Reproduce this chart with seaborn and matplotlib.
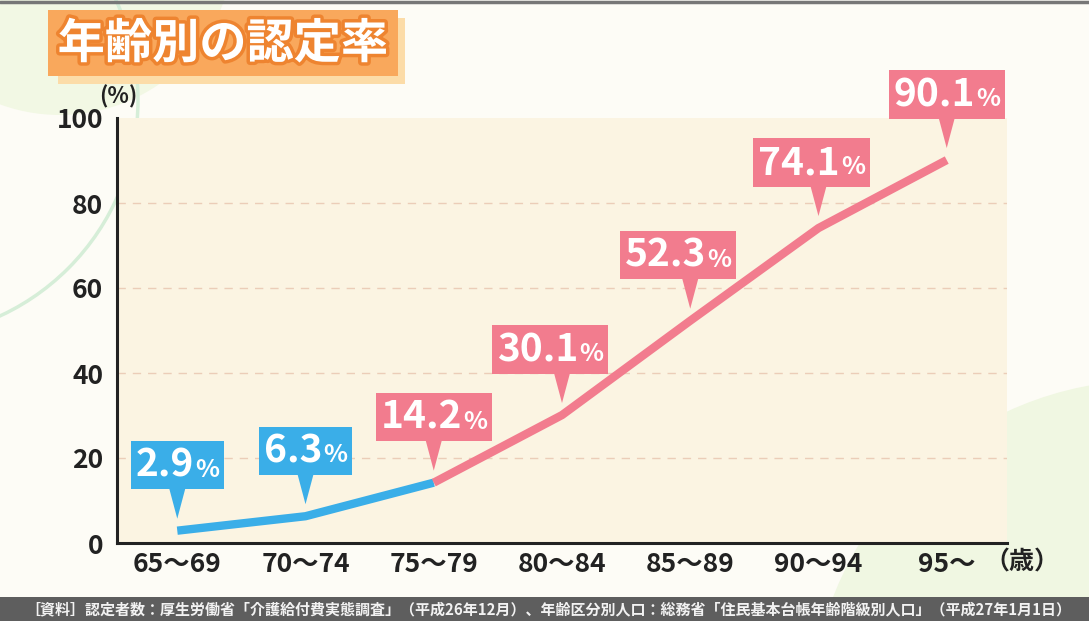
import matplotlib
matplotlib.use("Agg")
import matplotlib.pyplot as plt
import matplotlib.patches as mpatches
import matplotlib.transforms as mtransforms
import matplotlib.patheffects as pe
from matplotlib.offsetbox import TextArea, HPacker, AnnotationBbox
import seaborn as sns
import pandas as pd

# data
age_groups = ["65～69", "70～74", "75～79", "80～84", "85～89", "90～94", "95～"]
rates = [2.9, 6.3, 14.2, 30.1, 52.3, 74.1, 90.1]
y_ticks = [0, 20, 40, 60, 80, 100]
n_blue = 3  # line is blue up to the third group, callouts blue for the first two

title = "年齢別の認定率"
source = "［資料］認定者数：厚生労働省「介護給付費実態調査」（平成26年12月）、年齢区分別人口：総務省「住民基本台帳年齢階級別人口」（平成27年1月1日）"

BLUE = "#3AAEE8"
PINK = "#F27C8E"
DARK = "#222222"
W, H = 1089, 621

sns.set_theme(style="white")
plt.rcParams['font.family'] = ['Noto Sans CJK JP', 'DejaVu Sans']

df = pd.DataFrame({"pos": range(len(age_groups)), "rate": rates})

fig = plt.figure(figsize=(W / 100, H / 100), dpi=100)
fig.patch.set_facecolor("#FDFCF6")
# pixel coords, y measured from the top of the image
pix = mtransforms.Affine2D().scale(1 / W, -1 / H).translate(0, 1) + fig.transFigure

# background decoration
fig.add_artist(mpatches.Circle((60, -60), 175, transform=pix, facecolor="#F2F8E4",
                               edgecolor="none", zorder=-3))
fig.add_artist(mpatches.Circle((-100, 100), 238, transform=pix, facecolor="none",
                               edgecolor="#D6EED8", lw=2.5, zorder=-2))
fig.add_artist(mpatches.Circle((1150, 720), 340, transform=pix, facecolor="#F0F7E2",
                               edgecolor="none", zorder=-3))
fig.add_artist(plt.Line2D([0, W], [1.5, 1.5], transform=pix, color="#777777", lw=2.5))

ax = fig.add_axes([117 / W, 1 - 543 / H, 890 / W, 425 / H])
ax.set_facecolor("#FBF4E2")

for yv in y_ticks[1:-1]:
    ax.axhline(yv, color="#EBCDB8", lw=1, ls=(0, (6, 5)), zorder=1)

blue = df[df["pos"] <= n_blue - 1]
pink = df[df["pos"] >= n_blue - 1]
sns.lineplot(data=blue, x="pos", y="rate", color=BLUE, lw=6, ax=ax,
             solid_capstyle="butt", zorder=3)
sns.lineplot(data=pink, x="pos", y="rate", color=PINK, lw=6, ax=ax,
             solid_capstyle="butt", zorder=3)

ax.set_xlim(-0.47, len(age_groups) - 0.53)
ax.set_ylim(0, 100)
ax.set_xticks(range(len(age_groups)))
ax.set_xticklabels(age_groups, fontsize=19, fontweight="bold", color=DARK)
ax.set_yticks(y_ticks)
ax.set_yticklabels([str(t) for t in y_ticks], fontsize=19, fontweight="bold", color=DARK)
ax.set_xlabel("")
ax.set_ylabel("")
ax.tick_params(axis="y", direction="out", length=8, width=2, color=DARK, pad=2)
ax.tick_params(axis="x", direction="in", length=10, width=2, color=DARK, pad=6)
for side in ["top", "right"]:
    ax.spines[side].set_visible(False)
for side in ["left", "bottom"]:
    ax.spines[side].set_color(DARK)
    ax.spines[side].set_linewidth(2.2)

# callouts
shifts = [0, 0, 0, -12, -12, -7, 0]
for i, v in enumerate(rates):
    col = BLUE if i < n_blue - 1 else PINK
    num = TextArea(f"{v:.1f}", textprops=dict(color="white", fontsize=28, fontweight="bold"))
    pct = TextArea("%", textprops=dict(color="white", fontsize=18, fontweight="bold"))
    pack = HPacker(children=[num, pct], align="baseline", pad=0, sep=1)
    ab = AnnotationBbox(pack, (i, v), xybox=(shifts[i], 46), xycoords="data",
                        boxcoords="offset pixels", box_alignment=(0.5, 0),
                        frameon=True, pad=0.45, annotation_clip=False,
                        bboxprops=dict(facecolor=col, edgecolor="none", boxstyle="square"),
                        zorder=5)
    ax.add_artist(ab)
    t = mtransforms.Affine2D() + mtransforms.ScaledTranslation(i, v, ax.transData)
    tri = mpatches.Polygon([(-8, 42), (8, 42), (0, 12)], closed=True, transform=t,
                           facecolor=col, edgecolor="none", zorder=5, clip_on=False)
    ax.add_patch(tri)

# axis unit labels
fig.text(118 / W, 1 - 97 / H, "(%)", fontsize=16, fontweight="bold", color=DARK,
         ha="center", va="center")
fig.text(1022 / W, 1 - 563 / H, "（歳）", fontsize=18, fontweight="bold", color=DARK,
         ha="center", va="center")

# title banner
fig.add_artist(mpatches.Rectangle((58, 18), 347, 66, transform=pix, facecolor="#FCDCA8",
                                  edgecolor="none"))
fig.add_artist(mpatches.Rectangle((48, 10), 350, 66, transform=pix, facecolor="#F9A85C",
                                  edgecolor="none"))
fig.text(223 / W, 1 - 44 / H, title, fontsize=34, fontweight="bold", color="white",
         ha="center", va="center",
         path_effects=[pe.Stroke(linewidth=5, foreground="#EE8430"), pe.Normal()])

# source footer
fig.add_artist(mpatches.Rectangle((0, 597), W, 24, transform=pix, facecolor="#5E5E5E",
                                  edgecolor="none"))
fig.text(548 / W, 1 - 609 / H, source, fontsize=10.8, fontweight="bold", color="#F2F2F2",
         ha="center", va="center")

fig.savefig("out.png", dpi=100, facecolor=fig.get_facecolor())
